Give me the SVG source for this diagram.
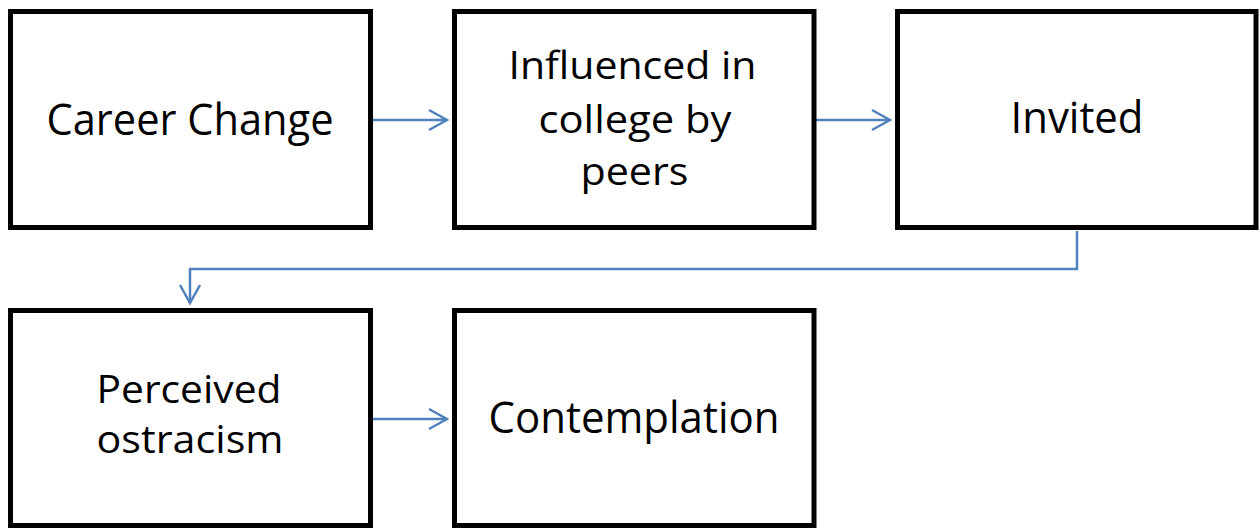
<svg xmlns="http://www.w3.org/2000/svg" width="1260" height="529" viewBox="0 0 1260 529">
  <style>
    .box { fill: #ffffff; stroke: #000000; stroke-width: 5; }
    .lbl { font-family: "Open Sans", "Noto Sans", sans-serif; fill: #000000; text-anchor: middle; }
    .big { font-size: 44px; }
    .small { font-size: 39px; }
    .conn { fill: none; stroke: #4f81bd; stroke-width: 2.5; marker-end: url(#chev); }
  </style>
  <defs>
    <marker id="chev" markerUnits="userSpaceOnUse" viewBox="0 0 22 24" markerWidth="22" markerHeight="24" refX="20" refY="12" orient="auto">
      <path d="M2,2 L20,12 L2,22" fill="none" stroke="#4f81bd" stroke-width="2.5"/>
    </marker>
  </defs>
  <rect width="1260" height="529" fill="#ffffff"/>

  <g id="connectors">
    <path class="conn" d="M373,120 H447"/>
    <path class="conn" d="M816,120 H890"/>
    <path class="conn" d="M1077,231 V269 H190 V303"/>
    <path class="conn" d="M373,419 H447"/>
  </g>

  <g id="career-change">
    <rect class="box" x="10.5" y="11.5" width="360" height="216"/>
    <text class="lbl big" x="190" y="135" textLength="287" lengthAdjust="spacingAndGlyphs">Career Change</text>
  </g>

  <g id="influenced">
    <rect class="box" x="454.5" y="11.5" width="359.5" height="216"/>
    <text class="lbl small" x="632.5" y="79" textLength="248" lengthAdjust="spacingAndGlyphs">Influenced in</text>
    <text class="lbl small" x="635" y="133" textLength="193" lengthAdjust="spacingAndGlyphs">college by</text>
    <text class="lbl small" x="634.5" y="185" textLength="108" lengthAdjust="spacingAndGlyphs">peers</text>
  </g>

  <g id="invited">
    <rect class="box" x="897.5" y="11.5" width="358.5" height="216"/>
    <text class="lbl big" x="1077" y="133" textLength="133" lengthAdjust="spacingAndGlyphs">Invited</text>
  </g>

  <g id="perceived-ostracism">
    <rect class="box" x="10.5" y="310.5" width="360" height="215"/>
    <text class="lbl small" x="189" y="403" textLength="185" lengthAdjust="spacingAndGlyphs">Perceived</text>
    <text class="lbl small" x="190" y="453" textLength="187" lengthAdjust="spacingAndGlyphs">ostracism</text>
  </g>

  <g id="contemplation">
    <rect class="box" x="454.5" y="310.5" width="359.5" height="215"/>
    <text class="lbl big" x="634" y="433" textLength="291" lengthAdjust="spacingAndGlyphs">Contemplation</text>
  </g>
</svg>
